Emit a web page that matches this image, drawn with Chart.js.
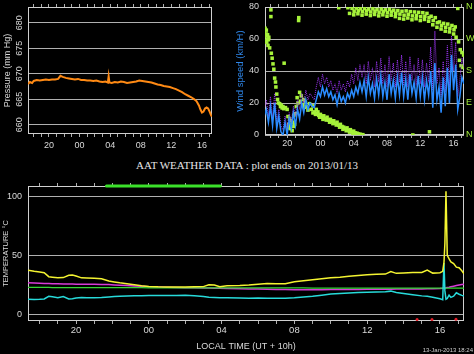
<!DOCTYPE html>
<html>
<head>
<meta charset="utf-8">
<title>AAT weather data</title>
<script src="https://cdn.jsdelivr.net/npm/chart.js@4/dist/chart.umd.min.js"></script>
<style>
  html, body { margin: 0; padding: 0; background: #000; }
  #page { position: relative; width: 474px; height: 354px; overflow: hidden; background: #000; }
  #page canvas { position: absolute; }
  #pressureChart { left: 0; top: 0; }
  #windChart { left: 232px; top: 0; }
  #tempChart { left: 0; top: 176px; }
  #plotTitle { position: absolute; left: 136px; top: 158px; line-height: 14px; font-family: "Liberation Serif", serif; font-size: 11px; color: #e6e6e6; white-space: nowrap; }
  #stamp { position: absolute; right: 1px; top: 346px; line-height: 8px; font-family: "Liberation Sans", sans-serif; font-size: 6px; color: #cfcfcf; white-space: nowrap; }
</style>
</head>
<body>
<div id="page">
  <canvas id="pressureChart" width="232" height="150"></canvas>
  <canvas id="windChart" width="242" height="150"></canvas>
  <div id="plotTitle">AAT WEATHER DATA : plot ends on 2013/01/13</div>
  <canvas id="tempChart" width="474" height="178"></canvas>
  <div id="stamp">13-Jan-2013 18:24</div>
</div>
<script>
// ====================
// Data
// times are hours from local midnight, negative = evening before
// ====================

const pressTimes = [
  -6.74, -6.5, -6.2, -6.0, -5.6, -5.2, -4.8, -4.4, -4.0, -3.6,
  -3.2, -2.8, -2.5, -2.2, -1.8, -1.4, -1.0, -0.6, -0.2, 0.2,
  0.6, 1.0, 1.4, 1.8, 2.2, 2.6, 3.0, 3.4, 3.7, 3.8,
  3.9, 4.2, 4.6, 5.0, 5.4, 5.8, 6.2, 6.6, 7.0, 7.4,
  7.8, 8.2, 8.6, 9.0, 9.4, 9.8, 10.2, 10.6, 11.0, 11.4,
  11.8, 12.2, 12.6, 13.0, 13.4, 13.8, 14.2, 14.6, 15.0, 15.3,
  15.6, 15.8, 16.0, 16.2, 16.4, 16.6, 16.8, 17.0, 17.15, 17.3,
];
const pressValues = [
  668.0, 668.4, 668.2, 668.6, 668.8, 668.7, 668.8, 668.9, 668.8, 668.9,
  668.9, 669.0, 669.6, 669.4, 669.2, 669.1, 669.0, 668.9, 669.0, 668.8,
  668.8, 668.7, 668.7, 668.6, 668.7, 668.5, 668.4, 668.5, 668.3, 669.5,
  668.3, 668.2, 668.4, 668.3, 668.5, 668.4, 668.2, 668.3, 668.4, 668.5,
  668.7, 668.6, 668.5, 668.4, 668.3, 668.1, 667.9, 667.8, 667.6, 667.5,
  667.4, 667.2, 667.0, 666.7, 666.4, 666.0, 665.7, 665.4, 665.0, 664.6,
  663.8, 663.0, 662.4, 662.6, 663.2, 663.4, 663.2, 662.6, 662.0, 661.6,
];

const windTimes = [
  -6.75, -6.5, -6.25, -6.0, -5.75, -5.5, -5.25, -5.0,
  -4.75, -4.5, -4.25, -4.0, -3.75, -3.5, -3.25, -3.0,
  -2.75, -2.5, -2.25, -2.0, -1.75, -1.5, -1.25, -1.0,
  -0.75, -0.5, -0.25, 0, 0.25, 0.5, 0.75, 1.0,
  1.25, 1.5, 1.75, 2.0, 2.25, 2.5, 2.75, 3.0,
  3.25, 3.5, 3.75, 4.0, 4.25, 4.5, 4.75, 5.0,
  5.25, 5.5, 5.75, 6.0, 6.25, 6.5, 6.75, 7.0,
  7.25, 7.5, 7.75, 8.0, 8.25, 8.5, 8.75, 9.0,
  9.25, 9.5, 9.75, 10.0, 10.25, 10.5, 10.75, 11.0,
  11.25, 11.5, 11.75, 12.0, 12.25, 12.5, 12.75, 13.0,
  13.25, 13.5, 13.75, 14.0, 14.25, 14.5, 14.75, 15.0,
  15.25, 15.5, 15.75, 16.0, 16.25, 16.5, 16.75, 17.0,
  17.25,
];
const windMean = [
  12, 16, 8, 18, 6, 20, 4, 12,
  2, 0, 8, 0, 10, 4, 14, 6,
  16, 10, 20, 14, 22, 16, 20, 18,
  17, 22, 27, 24, 30, 25, 29, 24,
  27, 22, 25, 19, 26, 21, 24, 20,
  26, 23, 28, 24, 30, 26, 33, 27,
  34, 24, 36, 26, 32, 23, 35, 25,
  37, 24, 33, 22, 38, 26, 34, 23,
  36, 25, 39, 24, 35, 22, 38, 26,
  33, 23, 37, 24, 36, 22, 34, 25,
  40, 17, 45, 22, 30, 14, 36, 18,
  42, 20, 50, 28, 44, 16, 24, 36,
  32,
];
const windGust = [
  16, 22, 12, 24, 10, 26, 8, 16,
  6, 3, 12, 4, 14, 8, 18, 12,
  22, 16, 26, 20, 28, 22, 26, 24,
  22, 30, 36, 30, 38, 32, 36, 30,
  34, 28, 32, 26, 34, 28, 32, 27,
  34, 30, 38, 32, 42, 34, 44, 36,
  44, 32, 46, 34, 42, 30, 46, 33,
  48, 32, 44, 30, 49, 34, 45, 30,
  47, 33, 50, 31, 46, 30, 49, 34,
  44, 31, 48, 32, 47, 30, 45, 33,
  55, 28, 65, 32, 42, 24, 46, 27,
  56, 30, 62, 40, 58, 24, 34, 48,
  42,
];

// wind direction, degrees (0 = N)
const dirTimes = [
  -6.7, -6.6, -6.55, -6.5, -6.45, -6.4, -6.3, -6.2, -6.1, -5.95,
  -5.95, -5.9, -5.8, -5.7, -5.6, -5.5, -5.4, -5.35, -5.25, -5.15,
  -5.05, -4.9, -4.8, -4.7, -4.6, -4.5, -4.4, -4.36, -4.2, -4.0,
  -3.9, -3.8, -3.7, -3.6, -3.5, -3.4, -3.3, -3.2, -3.1, -3.0,
  -2.62, -2.6, -2.9, -2.8, -2.7, -2.5, -2.4, -2.3, -2.1, -2.0,
  -1.9, -1.8, -1.7, -1.5, -1.3, -1.1, -0.9, -0.7, -0.5, -0.4,
  -0.3, -0.2, 0, 0.2, 0.4, 0.6, 0.8, 1.0, 1.2, 1.4,
  1.6, 1.8, 2.0, 2.2, 2.4, 2.6, 2.8, 3.0, 3.2, 3.4,
  3.6, 3.8, 4.0, 4.2, 4.4, 4.6, 4.8, 5.1, 2.2, 11.1,
  13.1, 3.3, 3.8, 4.3, 4.8, 5.3, 5.8, 6.3, 6.8, 7.3,
  7.8, 8.3, 8.8, 9.3, 9.8, 10.3, 10.8, 11.3, 11.8, 12.3,
  12.8, 13.3, 13.8, 14.3, 14.8, 15.3, 15.8, 16.2, 16.5, 16.6,
  16.8, 17.0, 17.2, 3.5, 4.0, 4.5, 5.0, 5.5, 6.0, 6.5,
  7.0, 7.5, 8.0, 8.5, 9.0, 9.5, 10.0, 10.5, 11.0, 11.5,
  12.0, 12.5, 13.0, 13.5, 14.0, 14.5, 15.0, 15.5, 16.0, 16.3,
  16.7, 16.9, 17.1, 4.05, 4.55, 5.05, 5.55, 6.05, 6.55, 7.05,
  7.55, 8.05, 8.55, 9.05, 9.55, 10.05, 10.55, 11.05, 11.55, 12.05,
  12.55, 13.05, 13.55, 14.05, 14.55, 15.05, 15.55, 16.05, -0.9, -0.6,
  -0.1, 0.3, 0.7, 1.1, 1.5, 1.9, 2.3, 2.7, 3.1, 3.5,
  3.9, 4.3, -6.65, -6.5, -6.35, -6.25, -3.85, -3.55, -3.25,
];
const dirValues = [
  290, 279, 265, 284, 261, 270, 252, 275, 245, 352,
  333, 230, 216, 200, 185, 160, 149, 135, 115, 100,
  90, 88, 80, 84, 76, 80, 74, 202, 77, 72,
  52, 30, 45, 18, 40, 12, 36, 55, 30, 60,
  322, 330, 80, 105, 90, 120, 95, 110, 85, 100,
  78, 92, 80, 70, 88, 72, 82, 65, 72, 60,
  65, 55, 58, 50, 54, 46, 50, 42, 44, 38,
  40, 33, 36, 28, 30, 24, 22, 18, 20, 13,
  15, 9, 11, 6, 5, 3, 2, 1, 358, 0,
  9, 358, 356, 357, 355, 356, 354, 355, 353, 354,
  352, 353, 351, 350, 348, 349, 347, 346, 345, 344,
  342, 334, 330, 318, 314, 312, 308, 304, 356, 262,
  240, 232, 225, 342, 338, 341, 337, 340, 336, 339,
  335, 338, 334, 337, 333, 328, 326, 329, 324, 327,
  322, 325, 320, 310, 303, 298, 292, 290, 284, 275,
  210, 195, 190, 348, 350, 347, 349, 346, 348, 345,
  347, 344, 346, 342, 340, 337, 339, 335, 336, 333,
  334, 330, 322, 316, 308, 303, 300, 296, 62, 58,
  50, 44, 42, 36, 32, 28, 22, 16, 12, 8,
  5, 2, 300, 295, 282, 268, 20, 28, 24,
];
const dirLabels = ["N", "E", "S", "W", "N"];

const tempTimes = [
  -6.64, -6.3, -6.0, -5.75, -5.5, -5.3, -5.0, -4.7, -4.4, -4.2,
  -4.0, -3.7, -3.4, -3.0, -2.6, -2.2, -1.9, -1.6, -1.2, -0.8,
  -0.4, 0, 0.5, 1.0, 1.5, 2.0, 2.5, 3.0, 3.3, 3.6,
  3.9, 4.3, 5.0, 5.5, 6.0, 6.5, 7.0, 7.5, 8.0, 8.5,
  9.0, 9.5, 10.0, 10.5, 11.0, 11.5, 12.0, 12.5, 13.0, 13.3,
  13.6, 14.0, 14.5, 15.0, 15.3, 15.6, 16.0, 16.15, 16.22, 16.27,
  16.33, 16.4, 16.5, 16.6, 16.75, 16.9, 17.05, 17.2, 17.32,
];
const tempYellow = [
  37.5, 36.6, 36.0, 35.4, 32.0, 31.6, 31.0, 31.2, 33.2, 33.4,
  32.6, 31.0, 30.8, 30.6, 30.2, 28.4, 27.6, 26.8, 26.0, 25.2,
  24.4, 23.8, 23.4, 23.3, 23.2, 23.3, 23.4, 23.6, 25.2, 25.0,
  23.6, 24.4, 24.6, 25.0, 25.6, 26.2, 26.1, 26.0, 27.8, 28.6,
  29.4, 30.2, 31.0, 31.6, 32.4, 33.0, 33.6, 34.0, 34.2, 36.4,
  34.8, 35.2, 35.6, 35.5, 37.5, 35.0, 35.4, 36.5, 44.0, 60.0,
  104.0, 50.0, 47.0, 44.5, 43.0, 40.0, 39.5, 37.0, 34.5,
];
const tempMagenta = [
  26.8, 26.6, 26.4, 26.3, 26.2, 26.1, 26.0, 25.9, 25.8, 25.8,
  25.7, 25.6, 25.6, 25.6, 25.5, 25.3, 25.0, 24.8, 24.5, 24.2,
  23.9, 23.6, 23.3, 23.0, 22.8, 22.7, 22.6, 22.5, 22.4, 22.3,
  22.2, 22.1, 21.9, 21.7, 21.5, 21.4, 21.2, 21.1, 21.0, 21.0,
  21.0, 21.0, 21.1, 21.1, 21.2, 21.2, 21.3, 21.3, 21.4, 21.4,
  21.5, 21.5, 21.6, 21.7, 21.8, 21.9, 22.0, 22.2, 22.4, 22.5,
  22.6, 22.8, 23.1, 23.5, 24.0, 24.5, 25.0, 25.4, 25.7,
];
const tempGreen = [
  22.9, 22.9, 22.9, 22.9, 22.9, 22.8, 22.8, 22.8, 22.8, 22.8,
  22.8, 22.8, 22.7, 22.7, 22.7, 22.7, 22.7, 22.7, 22.7, 22.7,
  22.7, 22.6, 22.6, 22.6, 22.6, 22.6, 22.6, 22.6, 22.6, 22.6,
  22.6, 22.5, 22.5, 22.5, 22.5, 22.5, 22.5, 22.5, 22.5, 22.5,
  22.4, 22.4, 22.4, 22.4, 22.4, 22.4, 22.4, 22.4, 22.4, 22.4,
  22.4, 22.4, 22.4, 22.3, 22.3, 22.3, 22.3, 22.3, 22.3, 22.3,
  22.3, 22.3, 22.3, 22.3, 22.3, 22.3, 22.3, 22.3, 22.3,
];
const tempCyan = [
  13.0, 12.8, 12.9, 13.2, 15.4, 15.0, 14.3, 15.2, 13.2, 13.4,
  14.0, 14.5, 14.3, 14.2, 14.4, 14.8, 15.2, 15.5, 15.7, 15.9,
  16.0, 16.1, 16.1, 16.2, 16.1, 16.3, 15.8, 15.2, 14.6, 14.4,
  14.2, 14.2, 14.0, 13.8, 13.9, 13.7, 13.8, 13.8, 14.2, 14.8,
  15.5, 16.4, 17.4, 17.8, 18.2, 18.6, 18.8, 19.0, 19.2, 19.8,
  18.6, 17.8, 16.8, 15.8, 15.4, 14.6, 13.4, 12.6, 43.5, 20.0,
  13.0, 13.6, 16.4, 14.5, 15.5, 18.4, 17.2, 16.2, 15.6,
];
const redTimes = [14.74, 15.56, 16.88];
const redValues = [-4.2, -4.2, -4.0];
const barTimes = [-2.33, 3.93];

// ====================
// Helpers
// ====================

Chart.defaults.font.family = '"Liberation Sans", Arial, sans-serif';
Chart.defaults.color = "#d9d9d9";

const GRID = "#b0b0b0";
const TEMP_MAX = 108.5;

function points(xs, ys) {
  return xs.map((x, i) => ({ x: x, y: ys[i] }));
}

function hourLabel(v) {
  if (v % 4 !== 0) return "";
  const h = (v + 24) % 24;
  return (h < 10 ? "0" : "") + h;
}

function fixSize(size) {
  return function (scale) {
    if (scale.isHorizontal()) scale.height = size;
    else scale.width = size;
    scale.paddingLeft = 0;
    scale.paddingRight = 0;
    scale.paddingTop = 0;
    scale.paddingBottom = 0;
  };
}

function timeAxes(min, max, height, topHeight, pad, fontSize) {
  return {
    x: {
      type: "linear",
      position: "bottom",
      min: min,
      max: max,
      ticks: { stepSize: 1, includeBounds: false, autoSkip: false, maxRotation: 0, padding: pad, font: { size: fontSize }, callback: hourLabel },
      grid: { drawOnChartArea: false, tickLength: 3, color: GRID },
      border: { display: false },
      afterFit: fixSize(height),
    },
    xTop: {
      type: "linear",
      position: "top",
      min: min,
      max: max,
      ticks: { stepSize: 1, includeBounds: false, autoSkip: false, display: false },
      grid: { drawOnChartArea: false, tickLength: 3, color: GRID },
      border: { display: false },
      afterFit: fixSize(topHeight),
    },
  };
}

const framePlugin = {
  id: "frame",
  beforeDatasetsDraw(chart) {
    const a = chart.chartArea;
    const ctx = chart.ctx;
    ctx.save();
    ctx.strokeStyle = "#d0d0d0";
    ctx.lineWidth = 1;
    ctx.strokeRect(Math.round(a.left) + 0.5, Math.round(a.top) + 0.5, Math.round(a.right - a.left) - 1, Math.round(a.bottom - a.top) - 1);
    ctx.restore();
  },
};

const baseOptions = {
  responsive: false,
  animation: false,
  events: [],
  plugins: { legend: { display: false }, tooltip: { enabled: false } },
};

// ====================
// Pressure
// ====================

new Chart(document.getElementById("pressureChart"), {
  type: "line",
  data: {
    datasets: [
      {
        data: points(pressTimes, pressValues),
        borderColor: "#ff8a14",
        borderWidth: 2,
        pointRadius: 0,
      },
    ],
  },
  options: {
    ...baseOptions,
    layout: { padding: { left: 0, right: 20, top: 0, bottom: 0 } },
    scales: {
      ...timeAxes(-6.74, 17.31, 16, 7, 3.2, 9),
      y: {
        min: 658.2,
        max: 683.1,
        ticks: { stepSize: 5, includeBounds: false, minRotation: 90, maxRotation: 90, crossAlign: "center", padding: 0.5, font: { size: 9 } },
        grid: { color: GRID, drawTicks: false },
        border: { display: false },
        title: { display: true, text: "Pressure (mm Hg)", font: { size: 9 }, padding: { top: 2, bottom: 0 } },
        afterFit: fixSize(28),
      },
    },
  },
  plugins: [framePlugin],
});

// ====================
// Wind
// ====================

new Chart(document.getElementById("windChart"), {
  type: "line",
  data: {
    datasets: [
      {
        data: points(windTimes, windMean),
        borderColor: "#2a8cff",
        borderWidth: 1.5,
        pointRadius: 0,
        order: 1,
      },
      {
        data: points(windTimes, windGust),
        borderColor: "#9a34f2",
        borderWidth: 1,
        borderDash: [1, 1],
        pointRadius: 0,
        order: 2,
      },
      {
        data: points(dirTimes, dirValues),
        yAxisID: "yDir",
        showLine: false,
        pointStyle: "rect",
        pointRadius: 2.5,
        pointBorderWidth: 0,
        pointBackgroundColor: "#a6f23a",
        order: 3,
      },
    ],
  },
  options: {
    ...baseOptions,
    layout: { padding: 0 },
    scales: {
      ...timeAxes(-6.66, 17.25, 15, 7, 0, 9),
      y: {
        min: 0,
        max: 80,
        ticks: { stepSize: 20, padding: 6, font: { size: 9 } },
        grid: { color: GRID, drawTicks: false },
        border: { display: false },
        title: { display: true, text: "Wind speed (km/H)", color: "#2f86e8", font: { size: 9.5 }, padding: { top: 2.3, bottom: 0 } },
        afterFit: fixSize(33),
      },
      yDir: {
        position: "right",
        min: 0,
        max: 360,
        ticks: { stepSize: 90, padding: 2, color: "#a6f23a", font: { size: 9 }, callback: (v) => dirLabels[Math.round(v / 90)] },
        grid: { drawOnChartArea: false, drawTicks: false },
        border: { display: false },
        afterFit: fixSize(10),
      },
    },
  },
  plugins: [framePlugin],
});

// ====================
// Temperature
// ====================

new Chart(document.getElementById("tempChart"), {
  type: "line",
  data: {
    datasets: [
      {
        data: points(tempTimes, tempYellow),
        borderColor: "#f4f431",
        borderWidth: 1.5,
        pointRadius: 0,
        order: 1,
      },
      {
        data: points(tempTimes, tempCyan),
        borderColor: "#27dada",
        borderWidth: 1.5,
        pointRadius: 0,
        order: 2,
      },
      {
        data: points(tempTimes, tempMagenta),
        borderColor: "#d83ad8",
        borderWidth: 1.5,
        pointRadius: 0,
        order: 4,
      },
      {
        data: points(tempTimes, tempGreen),
        borderColor: "#35d635",
        borderWidth: 1.2,
        pointRadius: 0,
        order: 3,
      },
      {
        data: points(redTimes, redValues),
        showLine: false,
        pointRadius: 1.5,
        pointBorderWidth: 0,
        pointBackgroundColor: "#e0202a",
        order: 5,
      },
      {
        data: barTimes.map((t) => ({ x: t, y: TEMP_MAX })),
        borderColor: "#3be02a",
        borderWidth: 3,
        borderCapStyle: "round",
        pointRadius: 0,
        clip: false,
        order: 0,
      },
    ],
  },
  options: {
    ...baseOptions,
    layout: { padding: { left: 0, right: 10, top: 0, bottom: 0 } },
    scales: {
      ...timeAxes(-6.64, 17.32, 33, 10, 0.5, 9.5),
      y: {
        min: -5.4,
        max: TEMP_MAX,
        ticks: { stepSize: 50, includeBounds: false, padding: 6, font: { size: 9 } },
        grid: { color: GRID, drawTicks: false },
        border: { display: false },
        title: { display: true, text: "TEMPERATURE °C", font: { size: 7.5 }, padding: { top: 1, bottom: 0 } },
        afterFit: fixSize(28),
      },
    },
  },
  plugins: [framePlugin],
});

// x title for the temperature panel
Chart.getChart("tempChart").options.scales.x.title = {
  display: true,
  text: "LOCAL TIME (UT + 10h)",
  font: { size: 9 },
  padding: { top: 0, bottom: 1.6 },
};
Chart.getChart("tempChart").update();
</script>
</body>
</html>
